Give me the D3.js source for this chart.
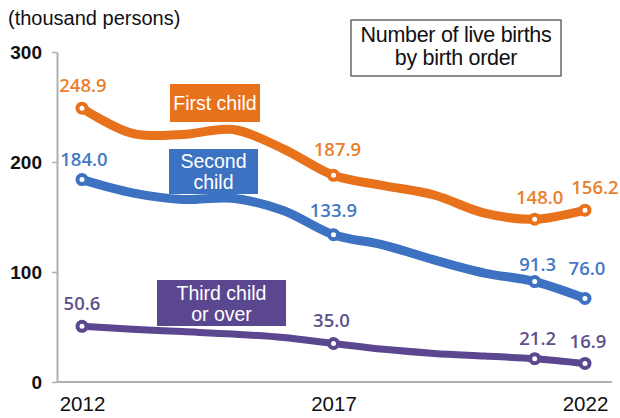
<!DOCTYPE html>
<html>
<head>
<meta charset="utf-8">
<script src="https://cdn.jsdelivr.net/npm/d3@7"></script>
<style>
  body { margin: 0; background: #fff; }
  svg { display: block; font-family: "Liberation Sans", Arial, sans-serif; }
</style>
</head>
<body>
<div id="chart"></div>
<script>
// data (thousand persons)
const years = [2012, 2013, 2014, 2015, 2016, 2017, 2018, 2019, 2020, 2021, 2022];
const firstChild = [248.9, 226.0, 225.0, 229.5, 212.0, 187.9, 178.5, 170.0, 153.5, 148.0, 156.2];
const secondChild = [184.0, 172.0, 166.0, 167.0, 156.0, 133.9, 124.5, 111.0, 99.0, 91.3, 76.0];
const thirdChild = [50.6, 48.0, 45.8, 43.6, 40.5, 35.0, 29.7, 26.0, 23.6, 21.2, 16.9];
const markedYears = [2012, 2017, 2021, 2022];
const yTicks = [0, 100, 200, 300];
const xTicks = [2012, 2017, 2022];

const WIDTH = 620;
const HEIGHT = 418;

const svg = d3.select('#chart')
  .append('svg')
  .attr('width', WIDTH)
  .attr('height', HEIGHT);

// scales
const x = d3.scaleLinear().domain([2012, 2022]).range([82, 585]);
const y = d3.scaleLinear().domain([0, 300]).range([382, 52]);
const AXIS_X = 57;

// y axis
const yAxis = svg.append('g')
  .attr('transform', `translate(${AXIS_X},0)`)
  .call(d3.axisLeft(y).tickValues(yTicks).tickSize(5).tickSizeOuter(0).tickPadding(10));
yAxis.select('.domain').attr('stroke', '#b0b0b0').attr('stroke-width', 2);
yAxis.selectAll('.tick line').attr('stroke', '#b0b0b0').attr('stroke-width', 1.5);
yAxis.selectAll('.tick text')
  .attr('font-size', 19)
  .attr('font-weight', 'bold')
  .attr('fill', '#111')
  .attr('dy', '0.35em');

// x axis
svg.append('line')
  .attr('x1', AXIS_X).attr('x2', 612)
  .attr('y1', y(0)).attr('y2', y(0))
  .attr('stroke', '#b0b0b0')
  .attr('stroke-width', 2);

const xAxis = svg.append('g')
  .attr('transform', `translate(0,${y(0)})`)
  .call(d3.axisBottom(x).tickValues(xTicks).tickFormat(d3.format('d')).tickSize(0).tickPadding(14));
xAxis.select('.domain').remove();
xAxis.selectAll('.tick text')
  .attr('font-size', 20.5)
  .attr('fill', '#111');

// unit label
svg.append('text')
  .attr('x', 8).attr('y', 25)
  .attr('font-size', 20)
  .attr('fill', '#111')
  .text('(thousand persons)');

// title box
svg.append('rect')
  .attr('x', 351).attr('y', 20)
  .attr('width', 210).attr('height', 56)
  .attr('fill', '#fff')
  .attr('stroke', '#444')
  .attr('stroke-width', 1.2);
svg.append('text')
  .attr('x', 456).attr('y', 42)
  .attr('text-anchor', 'middle')
  .attr('font-size', 21.5)
  .attr('letter-spacing', -0.3)
  .attr('fill', '#111')
  .text('Number of live births');
svg.append('text')
  .attr('x', 456).attr('y', 65)
  .attr('text-anchor', 'middle')
  .attr('font-size', 21.5)
  .attr('letter-spacing', -0.3)
  .attr('fill', '#111')
  .text('by birth order');

// series
const series = [
  { name: 'first', values: firstChild, line: '#E8711C', text: '#E8802E', width: 9,
    box: { x: 170, y: 84, w: 90, h: 38, lines: ['First child'] } },
  { name: 'second', values: secondChild, line: '#3D72C2', text: '#4479C6', width: 9,
    box: { x: 169, y: 149, w: 89, h: 45, lines: ['Second', 'child'] } },
  { name: 'third', values: thirdChild, line: '#5B4790', text: '#5E5189', width: 7,
    box: { x: 157, y: 280, w: 129, h: 46, lines: ['Third child', 'or over'] } }
];

// small nudges for value labels [dx, dy] relative to marker
const nudge = {
  'first-2012': [1, -16], 'first-2017': [4, -19], 'first-2021': [5, -15], 'first-2022': [10, -16],
  'second-2012': [2, -14], 'second-2017': [0, -18], 'second-2021': [3, -11], 'second-2022': [2, -23],
  'third-2012': [0, -16], 'third-2017': [-2, -17], 'third-2021': [3, -14], 'third-2022': [3, -15]
};

const line = d3.line()
  .x(d => x(d.year))
  .y(d => y(d.value))
  .curve(d3.curveCatmullRom.alpha(0.5));

series.forEach(s => {
  const pts = years.map((yr, i) => ({ year: yr, value: s.values[i] }));

  svg.append('path')
    .datum(pts)
    .attr('d', line)
    .attr('fill', 'none')
    .attr('stroke', s.line)
    .attr('stroke-width', s.width)
    .attr('stroke-linecap', 'round')
    .attr('stroke-linejoin', 'round');

  const marked = pts.filter(d => markedYears.includes(d.year));

  svg.append('g')
    .selectAll('circle')
    .data(marked)
    .enter()
    .append('circle')
    .attr('cx', d => x(d.year))
    .attr('cy', d => y(d.value))
    .attr('r', 4.5)
    .attr('fill', '#fff')
    .attr('stroke', s.line)
    .attr('stroke-width', 4);

  svg.append('g')
    .selectAll('text')
    .data(marked)
    .enter()
    .append('text')
    .attr('x', d => x(d.year) + nudge[s.name + '-' + d.year][0])
    .attr('y', d => y(d.value) + nudge[s.name + '-' + d.year][1])
    .attr('text-anchor', 'middle')
    .attr('font-family', '"Open Sans", sans-serif')
    .attr('font-weight', 600)
    .attr('font-size', 18.5)
    .attr('fill', s.text)
    .text(d => d3.format('.1f')(d.value));

  // series name box
  svg.append('rect')
    .attr('x', s.box.x).attr('y', s.box.y)
    .attr('width', s.box.w).attr('height', s.box.h)
    .attr('fill', s.line);
  const lh = s.box.lines.length > 1 ? 21 : 0;
  const top = s.box.y + s.box.h / 2 - lh / 2 + 7;
  s.box.lines.forEach((t, i) => {
    svg.append('text')
      .attr('x', s.box.x + s.box.w / 2)
      .attr('y', top + i * lh)
      .attr('text-anchor', 'middle')
      .attr('font-size', 19.5)
      .attr('fill', '#fff')
      .text(t);
  });
});
</script>
</body>
</html>
